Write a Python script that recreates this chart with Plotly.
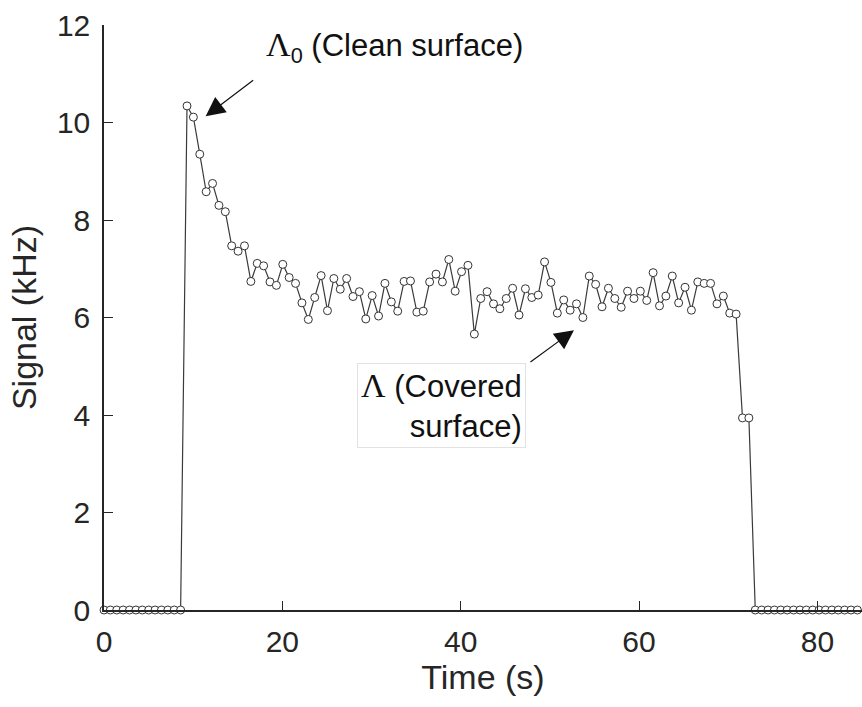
import plotly.graph_objects as go

# Sampling: first sample at t = 0 s, one sample every ~0.716 s
t_start = 0.0
t_step = 0.716

signal_khz = [
    0, 0, 0, 0, 0, 0, 0, 0, 0, 0, 0, 0, 0,
    10.34, 10.11, 9.35, 8.58, 8.75, 8.30, 8.17, 7.47, 7.36, 7.47,
    6.74, 7.11, 7.06, 6.73, 6.66, 7.09, 6.82, 6.70, 6.30, 5.96,
    6.41, 6.86, 6.14, 6.80, 6.58, 6.80, 6.43, 6.53, 5.97, 6.45,
    6.03, 6.70, 6.32, 6.13, 6.74, 6.75, 6.11, 6.13, 6.73, 6.89,
    6.73, 7.19, 6.54, 6.94, 7.07, 5.66, 6.39, 6.53, 6.28, 6.18,
    6.39, 6.60, 6.05, 6.59, 6.41, 6.46, 7.14, 6.72, 6.09, 6.36,
    6.15, 6.28, 6.00, 6.85, 6.68, 6.22, 6.60, 6.39, 6.21, 6.54,
    6.39, 6.54, 6.35, 6.92, 6.24, 6.44, 6.85, 6.30, 6.62, 6.15,
    6.73, 6.70, 6.70, 6.28, 6.44, 6.09, 6.07, 3.94, 3.94,
    0, 0, 0, 0, 0, 0, 0, 0, 0, 0, 0, 0, 0, 0, 0, 0, 0,
]

x_ticks = [0, 20, 40, 60, 80]
y_ticks = [0, 2, 4, 6, 8, 10, 12]

FONT = "Liberation Sans, Arial, Helvetica, sans-serif"
SERIF = "Liberation Serif, Times New Roman, serif"
AX = "#262626"

fig = go.Figure()
fig.add_trace(go.Scatter(
    y=signal_khz, x0=t_start, dx=t_step,
    mode="lines+markers",
    line=dict(color="#3a3a3a", width=1.2),
    marker=dict(symbol="circle", size=8, color="white",
                line=dict(color="#333333", width=1)),
    cliponaxis=False,
    showlegend=False,
))

# Arrows
fig.add_annotation(x=11.4, y=10.13, ax=49, ay=-37, text="",
                   showarrow=True, arrowhead=2, arrowsize=3.2,
                   arrowwidth=1.2, arrowcolor="#111111")
fig.add_annotation(x=52.7, y=5.74, ax=-45, ay=33, text="",
                   showarrow=True, arrowhead=2, arrowsize=3.2,
                   arrowwidth=1.2, arrowcolor="#111111")

# Labels
fig.add_annotation(
    x=17.9, y=11.55, xanchor="left", yanchor="middle", showarrow=False,
    text=f'<span style="font-family:{SERIF};font-size:34px">Λ</span><sub>0</sub> (Clean surface)',
    font=dict(family=FONT, size=31, color="#111111"))
fig.add_annotation(
    x=37.8, y=4.2, xanchor="center", yanchor="middle", showarrow=False,
    align="right",
    text=f'<span style="font-family:{SERIF};font-size:34px">Λ</span> (Covered<br>surface)',
    font=dict(family=FONT, size=31, color="#111111"),
    bgcolor="white", bordercolor="#e2e2e2", borderwidth=1, borderpad=3)

fig.update_layout(
    width=862, height=707,
    margin=dict(l=104, r=0, t=25, b=97),
    paper_bgcolor="white", plot_bgcolor="white",
    font=dict(family=FONT, color="#262626"),
    xaxis=dict(range=[0, 85], tickvals=x_ticks, ticks="inside", ticklen=9,
               tickwidth=1.3, tickcolor=AX, showline=True, linecolor=AX,
               linewidth=1.5, showgrid=False, zeroline=False,
               tickfont=dict(size=30, color="#262626"), ticklabelstandoff=4,
               title=dict(text="Time (s)", font=dict(size=34), standoff=8)),
    yaxis=dict(range=[0, 12], tickvals=y_ticks, ticks="inside", ticklen=9,
               tickwidth=1.3, tickcolor=AX, showline=True, linecolor=AX,
               linewidth=1.5, showgrid=False, zeroline=False,
               tickfont=dict(size=30, color="#262626"), ticklabelstandoff=6,
               title=dict(text="Signal (kHz)", font=dict(size=34), standoff=10)),
)

fig.write_html("out.html")
